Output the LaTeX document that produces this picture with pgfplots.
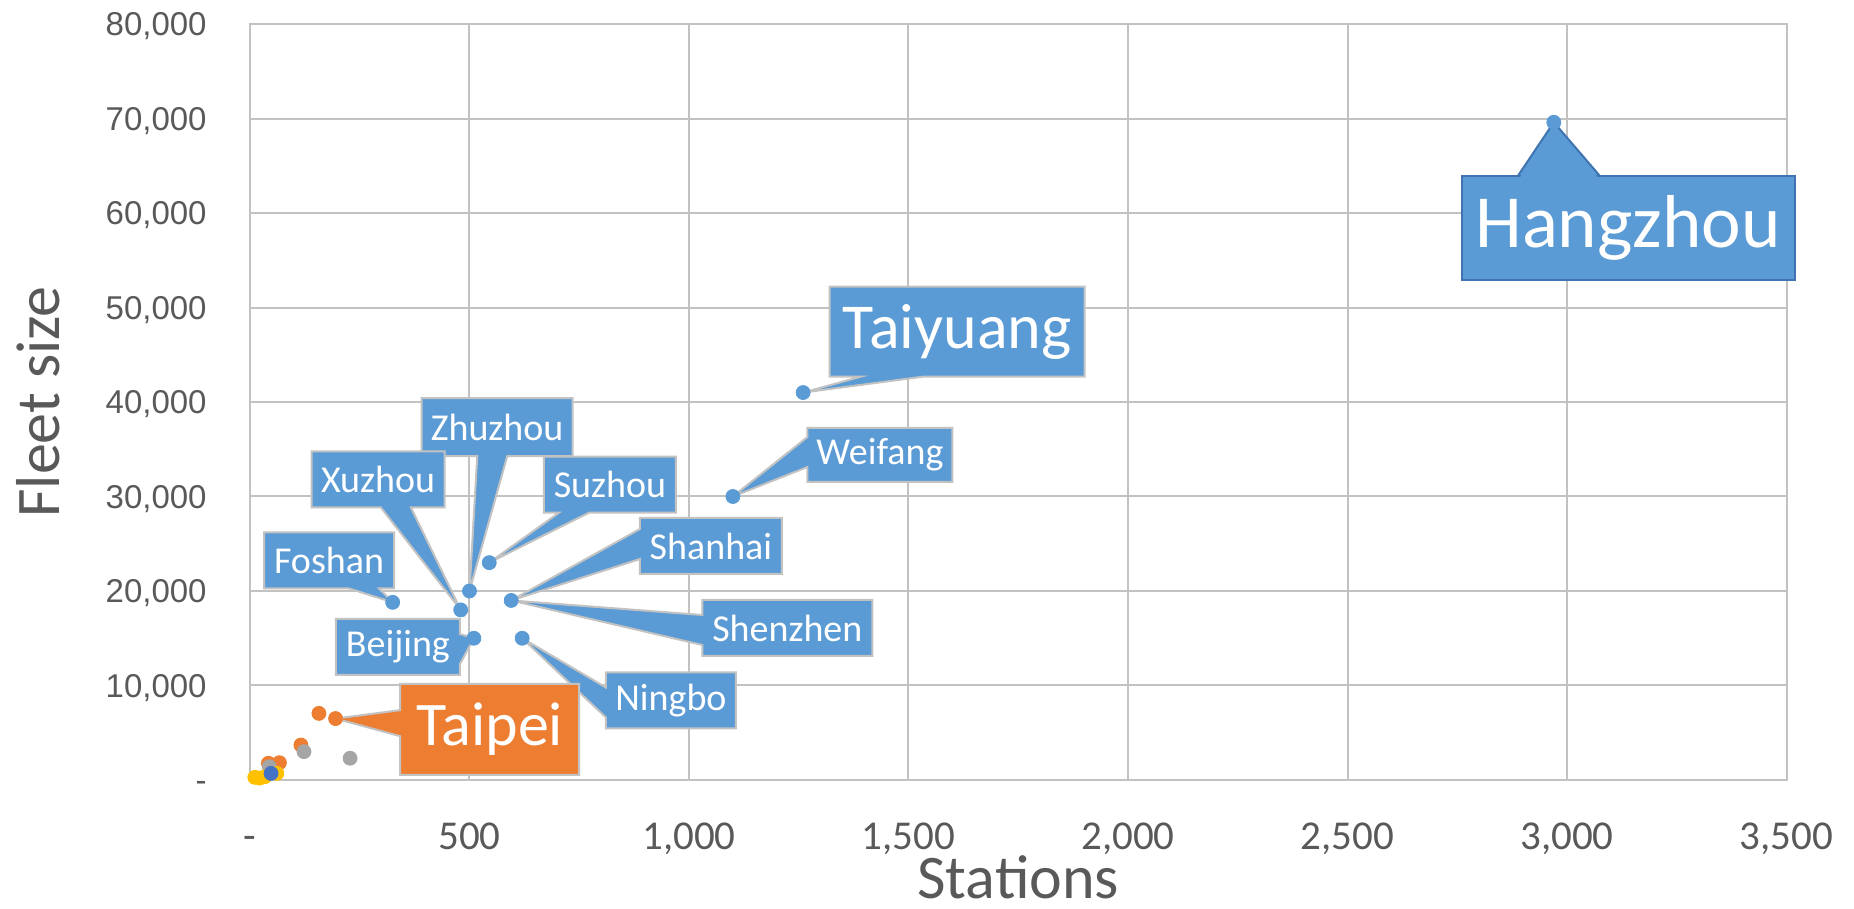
\documentclass[border=0pt]{standalone}
\usepackage{pgfplots}
\pgfplotsset{compat=1.18}
\usepackage{fontspec}
\setmainfont{Carlito}
\newfontfamily\yfont{Liberation Sans}
\usetikzlibrary{shapes.callouts}
\definecolor{cblue}{HTML}{5B9BD5}
\definecolor{corange}{HTML}{ED7D31}
\definecolor{cgray}{HTML}{A5A5A5}
\definecolor{cyellow}{HTML}{FFC000}
\definecolor{cdblue}{HTML}{4472C4}
\definecolor{gridc}{HTML}{C2C2C2}
\definecolor{textc}{HTML}{595959}
\definecolor{hzborder}{HTML}{3F74B0}
\tikzset{co/.style={rectangle callout, fill=cblue, draw=gridc, line width=1pt,
  text=white, inner sep=0pt, font=\fontsize{19}{22}\selectfont,
  callout pointer width=15pt}}
\begin{document}
\begin{tikzpicture}
\useasboundingbox (-125pt,-64.5pt) rectangle (802pt,390pt);
\begin{axis}[
  at={(0pt,0pt)}, anchor=south west,
  width=768.25pt, height=378pt, scale only axis,
  xmin=0, xmax=3500, ymin=0, ymax=80000,
  scaled ticks=false,
  xtick={0,500,1000,1500,2000,2500,3000,3500},
  ytick={0,10000,20000,30000,40000,50000,60000,70000,80000},
  xticklabels={{-\hspace{11.5pt}},500,{1,000},{1,500},{2,000},{2,500},{3,000},{3,500}},
  yticklabels={{-\hspace{10pt}},{10,000},{20,000},{30,000},{40,000},{50,000},{60,000},{70,000},{80,000}},
  grid=major, major grid style={draw=gridc, line width=1pt},
  axis line style={draw=gridc, line width=1pt},
  major tick length=0pt,
  xticklabel style={font=\fontsize{20.5}{24}\selectfont, text=textc, anchor=base, inner sep=0pt, yshift=-35pt},
  yticklabel style={font=\yfont\fontsize{16.5}{20}\selectfont, text=textc, anchor=base east, inner sep=0pt, xshift=-21.5pt, yshift=-5.9pt},
  xlabel={Stations}, ylabel={Fleet size},
  xlabel style={font=\fontsize{31}{36}\selectfont, text=textc, at={([yshift=-59.5pt]axis description cs:0.5,0)}, anchor=base, inner sep=0pt},
  ylabel style={font=\fontsize{31}{36}\selectfont, text=textc, at={([xshift=-95pt]axis description cs:0,0.5)}, anchor=base, inner sep=0pt},
  clip=false,
]
% Hangzhou callout (box plus pointer)
\draw[fill=cblue, draw=hzborder, line width=1pt, line join=miter]
  (axis cs:2888,63915) -- (axis cs:2970,69600) -- (axis cs:3075,63915);
\node[rectangle, fill=cblue, draw=hzborder, line width=1pt, text=white, inner sep=0pt,
  font=\fontsize{37.5}{42}\selectfont, minimum width=166.5pt, minimum height=52pt]
  at (axis cs:3139,58413) {Hangzhou};
\fill[cblue] (axis cs:2892,63700) -- (axis cs:2970,69300) -- (axis cs:3071,63700) -- cycle;
% other callouts
\node[co, font=\fontsize{32}{36}\selectfont, minimum width=127.5pt, minimum height=45pt, callout pointer width=31pt,
  callout absolute pointer={(axis cs:1260,41000)}] at (axis cs:1611,47439) {Taiyuang};
\node[co, minimum width=72.5pt, minimum height=27pt,
  callout absolute pointer={(axis cs:1100,30000)}] at (axis cs:1435,34392) {Weifang};
\node[co, minimum width=66pt, minimum height=28pt,
  callout absolute pointer={(axis cs:545,23000)}] at (axis cs:820,31249) {Suzhou};
\node[co, minimum width=75.5pt, minimum height=29pt,
  callout absolute pointer={(axis cs:500,20000)}] at (axis cs:563,37354) {Zhuzhou};
\node[co, minimum width=66.5pt, minimum height=28pt,
  callout absolute pointer={(axis cs:480,18000)}] at (axis cs:292,31799) {Xuzhou};
\node[co, minimum width=65pt, minimum height=28pt,
  callout absolute pointer={(axis cs:325,18800)}] at (axis cs:180,23228) {Foshan};
\node[co, minimum width=71pt, minimum height=28pt,
  callout absolute pointer={(axis cs:595,19000)}] at (axis cs:1050,24762) {Shanhai};
\node[co, minimum width=85pt, minimum height=28pt,
  callout absolute pointer={(axis cs:595,19000)}] at (axis cs:1224,16085) {Shenzhen};
\node[co, minimum width=65pt, minimum height=28pt,
  callout absolute pointer={(axis cs:620,15000)}] at (axis cs:959,8413) {Ningbo};
\node[co, minimum width=62pt, minimum height=28pt,
  callout absolute pointer={(axis cs:510,15000)}] at (axis cs:337,14074) {Beijing};
\node[co, fill=corange, font=\fontsize{31}{36}\selectfont, minimum width=89.5pt, minimum height=45.5pt, callout pointer width=13pt,
  callout absolute pointer={(axis cs:195,6500)}] at (axis cs:546,5344) {Taipei};
% data
\addplot[only marks, mark=*, mark size=3.5pt, mark options={fill=cblue, draw=cblue}] coordinates {
 (2970,69600) (1260,41000) (1100,30000) (545,23000) (500,20000) (480,18000)
 (325,18800) (595,19000) (510,15000) (620,15000)};
\addplot[only marks, mark=*, mark size=3.5pt, mark options={fill=corange, draw=corange}] coordinates {
 (157,7050) (195,6500) (116,3700) (42,1770) (67,1830)};
\addplot[only marks, mark=*, mark size=3.5pt, mark options={fill=cgray, draw=cgray}] coordinates {
 (123,3000) (228,2300) (44,1400)};
\addplot[only marks, mark=*, mark size=3.5pt, mark options={fill=cyellow, draw=cyellow}] coordinates {
 (11,280) (22,200) (34,350) (61,700)};
\addplot[only marks, mark=*, mark size=3.5pt, mark options={fill=cdblue, draw=cdblue}] coordinates {
 (48,700)};
\end{axis}
\end{tikzpicture}
\end{document}
